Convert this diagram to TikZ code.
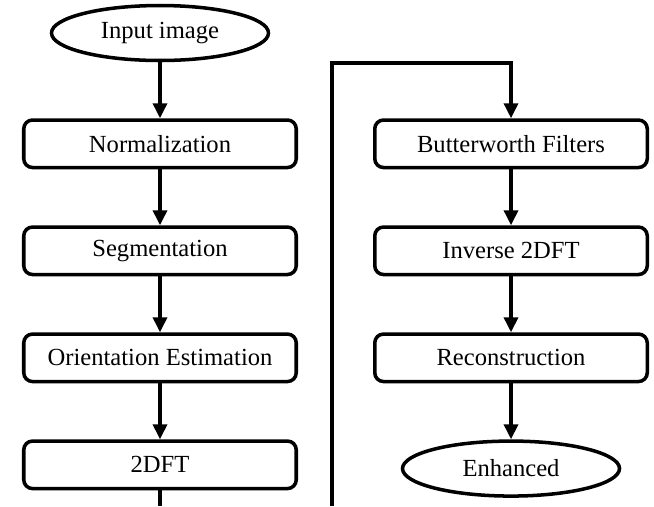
\documentclass[tikz,border=0pt]{standalone}
\usepackage{fontspec}
\setmainfont{Liberation Serif}
\usepackage{tikz}
\usetikzlibrary{positioning,arrows.meta,shapes.geometric}

\begin{document}
\begin{tikzpicture}[
  node distance=1.12cm and 1.5cm,
  box/.style={draw, line width=2pt, rounded corners=5pt, minimum width=5.45cm, minimum height=0.95cm, align=center, font=\fontsize{14}{16}\selectfont},
  term/.style={draw, line width=2pt, ellipse, minimum width=4.34cm, minimum height=1.1cm, inner sep=0pt, font=\fontsize{14}{16}\selectfont},
  arrow/.style={-{Triangle[length=3mm, width=2.8mm]}, line width=2pt},
  plain/.style={line width=2pt}
]
  \useasboundingbox (0,0) rectangle (13.08,-10.12);
  \node[term] (input) at (3.2,-0.66) {Input image};
  \node[box, below=of input] (norm) {Normalization};
  \node[box, below=of norm] (seg) {Segmentation};
  \node[box, below=of seg] (orient) {Orientation Estimation};
  \node[box, below=of orient] (dft) {2DFT};
  \node[box, right=of norm] (bworth) {Butterworth Filters};
  \node[box, below=of bworth] (idft) {Inverse 2DFT};
  \node[box, below=of idft] (recon) {Reconstruction};
  \node[term, below=of recon] (enh) {Enhanced};
  \coordinate (loopbot) at (6.64,-10.12);
  \coordinate (looptop) at (6.64,-1.26);
  \coordinate (dftbot) at (dft.south |- loopbot);
  \draw[arrow] (input) -- (norm);
  \draw[arrow] (norm) -- (seg);
  \draw[arrow] (seg) -- (orient);
  \draw[arrow] (orient) -- (dft);
  \draw[plain] (dft) -- (dftbot);
  \draw[arrow] (loopbot) -- (looptop) -| (bworth.north);
  \draw[arrow] (bworth) -- (idft);
  \draw[arrow] (idft) -- (recon);
  \draw[arrow] (recon) -- (enh);
\end{tikzpicture}
\end{document}
